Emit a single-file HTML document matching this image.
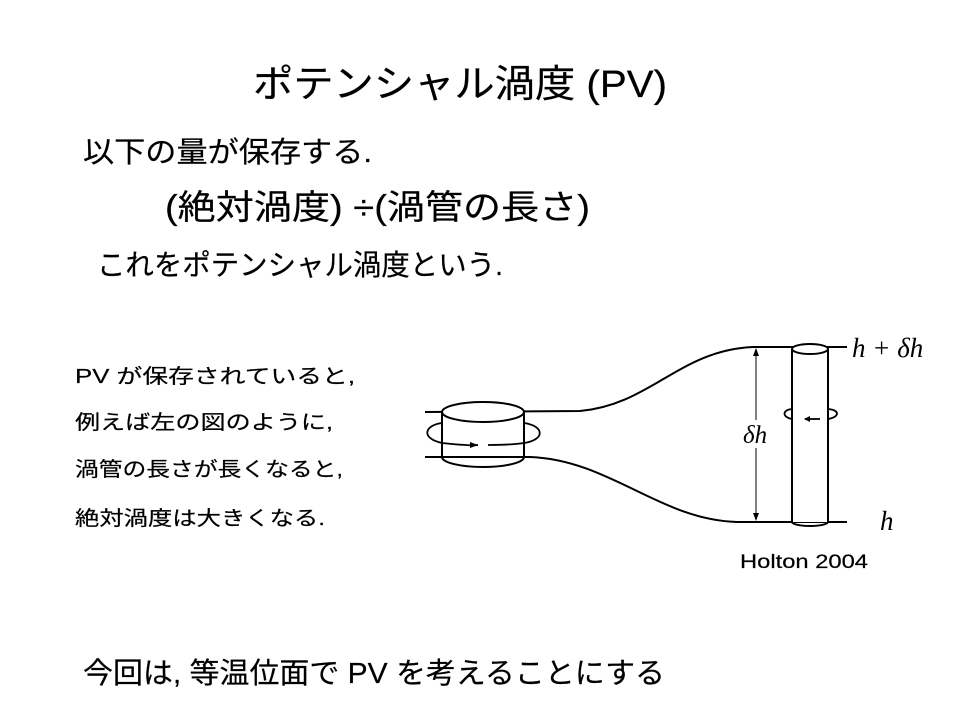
<!DOCTYPE html>
<html><head><meta charset="utf-8"><style>
body{margin:0;background:#fff;}
svg{display:block;}
text{font-family:"Liberation Sans","Noto Sans CJK JP",sans-serif;fill:#000;stroke:#000;stroke-width:0.2;}
.m{font-family:"Liberation Serif","DejaVu Serif",serif;font-style:italic;stroke:none;}
</style></head><body>
<svg width="960" height="720" viewBox="0 0 960 720" xmlns="http://www.w3.org/2000/svg">
<text x="253" y="97" font-size="38" textLength="414" lengthAdjust="spacingAndGlyphs">ポテンシャル渦度 (PV)</text>
<text x="83" y="162" font-size="29" textLength="289" lengthAdjust="spacingAndGlyphs">以下の量が保存する.</text>
<text x="165" y="219" font-size="34" textLength="425" lengthAdjust="spacingAndGlyphs">(絶対渦度) ÷(渦管の長さ)</text>
<text x="97" y="275" font-size="29" textLength="406" lengthAdjust="spacingAndGlyphs">これをポテンシャル渦度という.</text>
<g font-size="20">
<text x="75" y="383" textLength="280" lengthAdjust="spacingAndGlyphs">PV が保存されていると,</text>
<text x="75" y="429" textLength="258" lengthAdjust="spacingAndGlyphs">例えば左の図のように,</text>
<text x="75" y="476" textLength="268" lengthAdjust="spacingAndGlyphs">渦管の長さが長くなると,</text>
<text x="75" y="525" textLength="250" lengthAdjust="spacingAndGlyphs">絶対渦度は大きくなる.</text>
</g>
<text x="740" y="568" font-size="19" textLength="128" lengthAdjust="spacingAndGlyphs">Holton 2004</text>
<text x="83" y="683" font-size="29" textLength="582" lengthAdjust="spacingAndGlyphs">今回は, 等温位面で PV を考えることにする</text>
<g fill="none" stroke="#000" stroke-width="2">
<path d="M425 412 L580 411 C650 405 680 350 753 347 L847 347"/>
<path d="M425 457 L530 457 C610 460 660 520 737 522 L847 522"/>
<path d="M442 457 L442 412 M524 412 L524 457" />
<ellipse cx="483" cy="412" rx="41" ry="10" fill="#fff"/>
<path d="M442 457 A41 10 0 0 0 524 457"/>
<path d="M442 443 C420 438 425 425 442 423 M524 423 C545 426 545 440 524 443" stroke-width="1.8"/>
<path d="M442 443 Q470 446 478 445 M488 445 Q510 445 524 443" stroke-width="1.8"/>
<rect x="792" y="349" width="36" height="173" fill="#fff" stroke="none"/>
<path d="M792 349 L792 522 M828 349 L828 522"/>
<ellipse cx="810" cy="349" rx="18" ry="5" fill="#fff"/>
<path d="M792 522 A18 4 0 0 0 828 522"/>
<path d="M792 419 C782 417 782 410 792 409 M828 409 C840 410 840 417 828 419" stroke-width="1.8"/>
<path d="M805 419 L820 419" stroke-width="1.8"/>
<path d="M756 349 L756 520" stroke-width="1"/>
</g>
<path d="M810 416 L804 419 L810 422 Z"/>
<path d="M470 442 L478 445 L470 448 Z"/>
<path d="M753 356 L756 348 L759 356 Z"/>
<path d="M753 513 L756 521 L759 513 Z"/>
<rect x="744" y="420" width="28" height="28" fill="#fff"/>
<text class="m" x="743" y="443" font-size="25">δh</text>
<text class="m" x="852" y="357" font-size="27">h + δh</text>
<text class="m" x="880" y="530" font-size="27">h</text>
</svg>
</body></html>
